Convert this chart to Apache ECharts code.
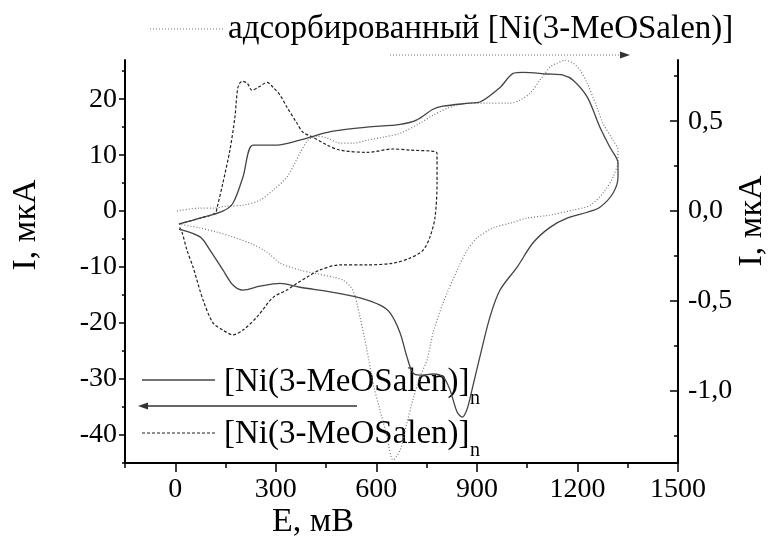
<!DOCTYPE html>
<html>
<head>
<meta charset="utf-8">
<script src="https://cdn.jsdelivr.net/npm/echarts@6/dist/echarts.min.js"></script>
<style>html,body{margin:0;padding:0;background:#fff}#c{width:775px;height:544px}</style>
</head>
<body>
<div id="c"></div>
<script>
// Polymer film [Ni(3-MeOSalen)]n, solid curve (E, мВ ; I, мкА)
var solidE = [11,74,142,172,202,232,304,372,423,471,572,671,721,769,799,880,909,969,1008,1038,1109,1157,1187,1229,1267,1297,1321,1321,
  1306,1267,1229,1169,1118,1067,1020,969,939,909,885,870,856,841,820,799,769,730,709,691,671,641,611,551,471,372,313,253,202,172,142,104,74,11];
var solidI = [-2.3,-1.25,0,1.4,6.1,11.8,11.8,12.7,13.6,14.3,15.0,15.5,16.3,18.2,18.75,19.3,19.5,22.1,24.6,24.8,24.5,24.3,23.4,20.4,15,11.4,8.6,6.1,
  3.2,0.7,-0.2,-1.25,-2.9,-5.7,-10,-14.1,-18.9,-26,-32,-35.5,-36.8,-35.9,-32,-29.6,-29.1,-29.3,-28.9,-26,-21.8,-18.2,-16.8,-15.5,-14.5,-13.6,-12.9,-13.4,-14.1,-13.2,-10.5,-7,-4.6,-3.2];
// Polymer film, dashed curve (left axis)
var dashE = [11,74,119,125,142,163,178,187,199,214,229,247,274,292,313,333,363,381,411,453,492,572,650,700,781,
  781,775,760,739,700,650,572,492,432,393,363,333,292,244,202,172,142,113,83,53,35,20,11];
var dashI = [-2.3,-1.25,-0.4,0.7,5,10.9,16.8,22.1,23.2,22.9,21.6,22.1,23,22.1,20.7,18.6,15.7,14.1,13.2,11.8,10.9,10.5,11.1,10.9,10.4,
  5,-1.1,-4.6,-7,-8.4,-9.3,-9.6,-9.6,-10.5,-11.8,-12.9,-14.1,-15.4,-18.9,-21.25,-22.1,-21.25,-20,-15.9,-10,-7,-3.75,-2.7];
// Adsorbed [Ni(3-MeOSalen)], dotted curve (right axis, мкА)
var adsE = [5,74,113,154,202,253,292,333,372,396,423,453,492,530,572,620,671,730,769,820,871,930,999,1029,1059,1088,1118,1139,1163,1187,1208,1229,1258,1276,1306,1321,1321,
  1306,1276,1238,1187,1118,1050,999,948,900,871,841,799,769,751,730,709,691,671,650,632,611,590,572,551,530,500,471,411,372,313,274,223,172,125,74,11];
var adsI = [0,0.017,0.017,0.028,0.033,0.061,0.117,0.189,0.322,0.394,0.417,0.406,0.378,0.378,0.394,0.411,0.433,0.489,0.533,0.578,0.6,0.6,0.6,0.617,0.656,0.728,0.8,0.822,0.839,0.822,0.783,0.711,0.578,0.489,0.394,0.339,0.283,
  0.189,0.1,0.033,0.006,-0.022,-0.039,-0.067,-0.094,-0.15,-0.217,-0.328,-0.511,-0.678,-0.828,-0.922,-1.05,-1.178,-1.328,-1.383,-1.256,-1.106,-0.956,-0.772,-0.589,-0.439,-0.383,-0.367,-0.344,-0.328,-0.289,-0.228,-0.178,-0.144,-0.117,-0.094,-0.072];

var xMajor = [0,300,600,900,1200,1500];
var xMinor = [-150,150,450,750,1050,1350];
var yLeftMajor = [-40,-30,-20,-10,0,10,20];
var yLeftMinor = [-45,-35,-25,-15,-5,5,15,25];
var yRightMajor = [-1.0,-0.5,0,0.5];
var yRightMinor = [-1.25,-0.75,-0.25,0.25,0.75];

var legendTop = 'адсорбированный [Ni(3-MeOSalen)]';
var legendPoly = '[Ni(3-MeOSalen)]';
var xName = 'E, мВ';
var yName = 'I, мкА';

function pairs(a,b){return a.map(function(v,i){return [v,b[i]];});}
var FF = '"Liberation Serif", "Times New Roman", serif';
var XMIN=-150, XMAX=1500, YLMIN=-45, YLMAX=27, YRMIN=-1.4, YRMAX=0.84;

function fmtR(v){ if (Math.abs(v)<1e-9) return '0,0'; return v.toFixed(1).replace('.', ','); }
function fmtX(v){ return String(v); }

var chart = echarts.init(document.getElementById('c'), null, {renderer:'canvas'});
var axisLineStyle = {color:'#000', width:2};
var TF = 28;
var option = {
  backgroundColor:'#fff',
  animation:false,
  grid:{left:125, right:97, top:60, bottom:81, containLabel:false},
  xAxis:[
    {type:'value', min:XMIN, max:XMAX, position:'bottom',
     axisLine:{show:true, onZero:false, lineStyle:axisLineStyle},
     axisTick:{show:true, customValues:xMajor, length:9, lineStyle:{color:'#000', width:1.5}},
     axisLabel:{show:true, customValues:xMajor, fontSize:TF, fontFamily:FF, color:'#000', margin:13, formatter:fmtX},
     splitLine:{show:false}},
    {type:'value', min:XMIN, max:XMAX, position:'bottom',
     axisLine:{show:false, onZero:false},
     axisTick:{show:true, customValues:xMinor, length:5, lineStyle:{color:'#000', width:1.5}},
     axisLabel:{show:false}, splitLine:{show:false}}
  ],
  yAxis:[
    {type:'value', min:YLMIN, max:YLMAX, position:'left',
     axisLine:{show:true, onZero:false, lineStyle:axisLineStyle},
     axisTick:{show:true, customValues:yLeftMajor, length:6, lineStyle:{color:'#000', width:1.5}},
     axisLabel:{show:true, customValues:yLeftMajor, fontSize:TF, fontFamily:FF, color:'#000', margin:8},
     splitLine:{show:false}},
    {type:'value', min:YRMIN, max:YRMAX, position:'right',
     axisLine:{show:true, onZero:false, lineStyle:axisLineStyle},
     axisTick:{show:true, inside:true, customValues:yRightMajor, length:8, lineStyle:{color:'#000', width:1.5}},
     axisLabel:{show:true, customValues:yRightMajor, fontSize:TF, fontFamily:FF, color:'#000', margin:10, formatter:fmtR},
     splitLine:{show:false}},
    {type:'value', min:YLMIN, max:YLMAX, position:'left',
     axisLine:{show:false, onZero:false},
     axisTick:{show:true, customValues:yLeftMinor, length:3, lineStyle:{color:'#000', width:1.5}},
     axisLabel:{show:false}, splitLine:{show:false}},
    {type:'value', min:YRMIN, max:YRMAX, position:'right',
     axisLine:{show:false, onZero:false},
     axisTick:{show:true, inside:true, customValues:yRightMinor, length:4, lineStyle:{color:'#000', width:1.5}},
     axisLabel:{show:false}, splitLine:{show:false}}
  ],
  series:[
    {type:'line', name:'solid', xAxisIndex:0, yAxisIndex:0, data:pairs(solidE, solidI), showSymbol:false, smooth:0.3,
     lineStyle:{color:'#444', width:1.3, type:'solid'}, z:3},
    {type:'line', name:'dash', xAxisIndex:0, yAxisIndex:0, data:pairs(dashE, dashI), showSymbol:false, smooth:0.3,
     lineStyle:{color:'#222', width:1.2, type:[3,2]}, z:2},
    {type:'line', name:'ads', xAxisIndex:0, yAxisIndex:1, data:pairs(adsE, adsI), showSymbol:false, smooth:0.3,
     lineStyle:{color:'#777', width:1.2, type:[1,2]}, z:1}
  ],
  graphic:[
    {type:'text', x:313, y:522, style:{text:xName, font:'34px '+FF, fill:'#000', textAlign:'center', textVerticalAlign:'middle'}},
    {type:'text', x:26, y:225, rotation:Math.PI/2, style:{text:yName, font:'34px '+FF, fill:'#000', textAlign:'center', textVerticalAlign:'middle'}},
    {type:'text', x:752, y:221, rotation:Math.PI/2, style:{text:yName, font:'34px '+FF, fill:'#000', textAlign:'center', textVerticalAlign:'middle'}},
    {type:'line', shape:{x1:150, y1:29, x2:223, y2:29}, style:{stroke:'#777', lineWidth:1.2, lineDash:[1,2]}},
    {type:'text', x:228, y:29, style:{text:legendTop, font:'33px '+FF, fill:'#000', textVerticalAlign:'middle'}},
    {type:'line', shape:{x1:390, y1:55, x2:622, y2:55}, style:{stroke:'#777', lineWidth:1.2, lineDash:[1,2]}},
    {type:'polygon', shape:{points:[[630,55],[620,51.5],[620,58.5]]}, style:{fill:'#333'}},
    {type:'line', shape:{x1:142, y1:380, x2:215, y2:380}, style:{stroke:'#444', lineWidth:1.3}},
    {type:'text', x:224, y:382, style:{text:legendPoly, font:'33px '+FF, fill:'#000', textVerticalAlign:'middle'}},
    {type:'text', x:470, y:399, style:{text:'n', font:'20px '+FF, fill:'#000', textVerticalAlign:'middle'}},
    {type:'line', shape:{x1:146, y1:406, x2:357, y2:406}, style:{stroke:'#333', lineWidth:1.3}},
    {type:'polygon', shape:{points:[[138,406],[148,402.5],[148,409.5]]}, style:{fill:'#333'}},
    {type:'line', shape:{x1:142, y1:433, x2:215, y2:433}, style:{stroke:'#222', lineWidth:1.2, lineDash:[3,2]}},
    {type:'text', x:224, y:434, style:{text:legendPoly, font:'33px '+FF, fill:'#000', textVerticalAlign:'middle'}},
    {type:'text', x:470, y:451, style:{text:'n', font:'20px '+FF, fill:'#000', textVerticalAlign:'middle'}}
  ]
};
chart.setOption(option);
</script>
</body>
</html>
